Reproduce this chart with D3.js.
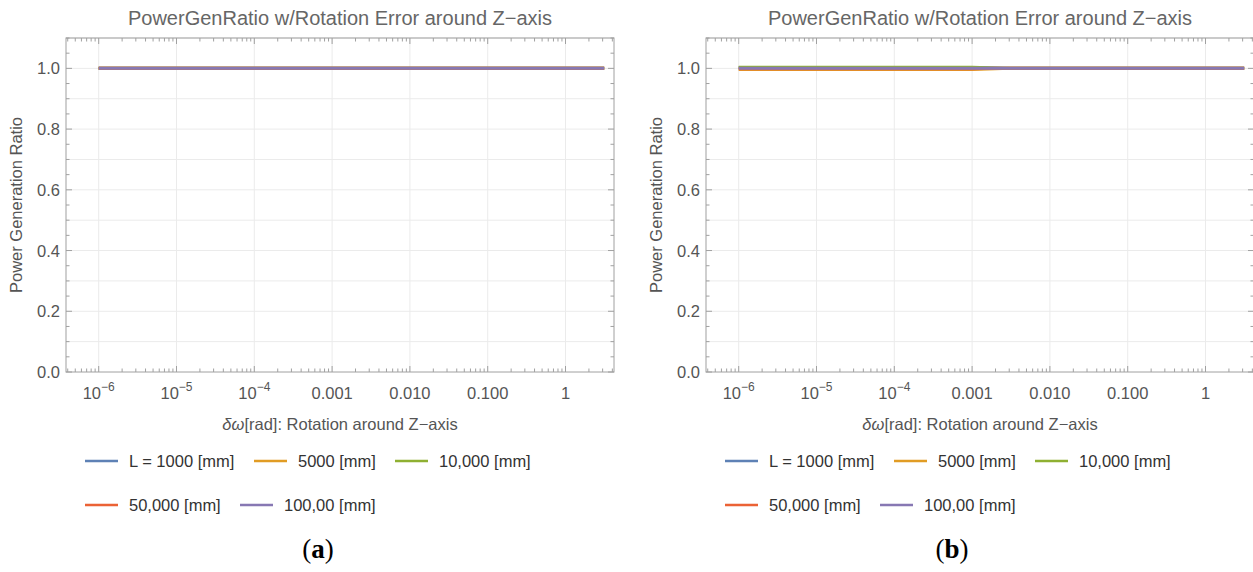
<!DOCTYPE html>
<html>
<head>
<meta charset="utf-8">
<script src="https://cdn.jsdelivr.net/npm/d3@7"></script>
<style>
  body { margin: 0; background: #fff; }
  svg text { font-family: "Liberation Sans", Arial, sans-serif; }
</style>
</head>
<body>
<svg id="chart" width="1253" height="572"></svg>
<script>
// x sample points (rad)
const deltaOmega = [1e-6, 1e-5, 1e-4, 1e-3, 2e-3, 3e-3, 1e-2, 0.1, 1, 3.1416];

// panel (a): all lengths give ratio 1
const panelA_L1000 = [1, 1, 1, 1, 1, 1, 1, 1, 1, 1];
const panelA_L5000 = [1, 1, 1, 1, 1, 1, 1, 1, 1, 1];
const panelA_L10000 = [1, 1, 1, 1, 1, 1, 1, 1, 1, 1];
const panelA_L50000 = [1, 1, 1, 1, 1, 1, 1, 1, 1, 1];
const panelA_L100000 = [1, 1, 1, 1, 1, 1, 1, 1, 1, 1];

// panel (b): small spread below ~0.002 rad
const panelB_L1000 = [1.003, 1.003, 1.003, 1.003, 1.001, 1, 1, 1, 1, 1];
const panelB_L5000 = [0.996, 0.996, 0.996, 0.996, 0.999, 1, 1, 1, 1, 1];
const panelB_L10000 = [1.004, 1.004, 1.004, 1.004, 1.001, 1, 1, 1, 1, 1];
const panelB_L50000 = [0.999, 0.999, 0.999, 0.999, 1, 1, 1, 1, 1, 1];
const panelB_L100000 = [1, 1, 1, 1, 1, 1, 1, 1, 1, 1];

const legendLabels = ["L = 1000 [mm]", "5000 [mm]", "10,000 [mm]", "50,000 [mm]", "100,00 [mm]"];
const seriesColors = ["#5e81b5", "#e19c24", "#8fb032", "#eb6235", "#8778b3"];

const xTickValues = [1e-6, 1e-5, 1e-4, 1e-3, 1e-2, 0.1, 1];
const xTickLabels = [["10", "−6"], ["10", "−5"], ["10", "−4"], ["0.001"], ["0.010"], ["0.100"], ["1"]];
const yTickValues = [0, 0.2, 0.4, 0.6, 0.8, 1.0];

const panels = [
  { dx: 0, caption: "a", series: [panelA_L1000, panelA_L5000, panelA_L10000, panelA_L50000, panelA_L100000] },
  { dx: 640, caption: "b", series: [panelB_L1000, panelB_L5000, panelB_L10000, panelB_L50000, panelB_L100000] }
];

const svg = d3.select("#chart");
const plotLeft = 66, plotRight = 614, plotTop = 38, plotBottom = 372;
const frameColor = "#a0a0a0";
const labelColor = "#555";

const x = d3.scaleLog().domain([3.8e-7, 4.2]).range([plotLeft, plotRight]);
const y = d3.scaleLinear().domain([0, 1.1]).range([plotBottom, plotTop]);

// minor ticks on the log axis: 2..9 of each decade inside the domain
const xMinor = [];
for (let e = -7; e <= 0; e++) {
  for (let m = 2; m <= 9; m++) {
    const v = m * Math.pow(10, e);
    if (v >= 3.8e-7 && v <= 4.2) xMinor.push(v);
  }
}
const yMinor = d3.range(0, 1.101, 0.05);
const yGrid = d3.range(0.1, 1.101, 0.1);

panels.forEach(function (p) {
  const g = svg.append("g").attr("transform", "translate(" + p.dx + ",0)");

  // grid lines
  g.selectAll(".vgrid").data(xTickValues).enter().append("line")
    .attr("x1", d => x(d)).attr("x2", d => x(d))
    .attr("y1", plotTop).attr("y2", plotBottom)
    .attr("stroke", "#ebebeb").attr("stroke-width", 1);
  g.selectAll(".hgrid").data(yGrid).enter().append("line")
    .attr("x1", plotLeft).attr("x2", plotRight)
    .attr("y1", d => y(d)).attr("y2", d => y(d))
    .attr("stroke", "#ebebeb").attr("stroke-width", 1);

  // frame
  g.append("rect")
    .attr("x", plotLeft).attr("y", plotTop)
    .attr("width", plotRight - plotLeft).attr("height", plotBottom - plotTop)
    .attr("fill", "none").attr("stroke", frameColor).attr("stroke-width", 1);

  // x ticks (bottom and top, inward)
  const xt = xTickValues.map(v => ({ v: v, len: 6 })).concat(xMinor.map(v => ({ v: v, len: 3.5 })));
  g.selectAll(".xtb").data(xt).enter().append("line")
    .attr("x1", d => x(d.v)).attr("x2", d => x(d.v))
    .attr("y1", plotBottom).attr("y2", d => plotBottom - d.len)
    .attr("stroke", frameColor);
  g.selectAll(".xtt").data(xt).enter().append("line")
    .attr("x1", d => x(d.v)).attr("x2", d => x(d.v))
    .attr("y1", plotTop).attr("y2", d => plotTop + d.len)
    .attr("stroke", frameColor);

  // y ticks (left and right, inward)
  const yt = yMinor.map(v => ({ v: v, len: Math.abs(v * 5 - Math.round(v * 5)) < 1e-6 ? 6 : 3.5 }));
  g.selectAll(".ytl").data(yt).enter().append("line")
    .attr("x1", plotLeft).attr("x2", d => plotLeft + d.len)
    .attr("y1", d => y(d.v)).attr("y2", d => y(d.v))
    .attr("stroke", frameColor);
  g.selectAll(".ytr").data(yt).enter().append("line")
    .attr("x1", plotRight).attr("x2", d => plotRight - d.len)
    .attr("y1", d => y(d.v)).attr("y2", d => y(d.v))
    .attr("stroke", frameColor);

  // x tick labels
  xTickValues.forEach(function (v, i) {
    const lab = xTickLabels[i];
    const t = g.append("text")
      .attr("x", x(v)).attr("y", 399)
      .attr("text-anchor", "middle")
      .attr("font-size", 16.5).attr("fill", labelColor);
    t.append("tspan").text(lab[0]);
    if (lab.length > 1) {
      t.append("tspan").attr("dy", -8).attr("font-size", 12).text(lab[1]);
    }
  });

  // y tick labels
  g.selectAll(".ylab").data(yTickValues).enter().append("text")
    .attr("x", 60).attr("y", d => y(d) + 6)
    .attr("text-anchor", "end")
    .attr("font-size", 16.5).attr("fill", labelColor)
    .text(d => d.toFixed(1));

  // title
  g.append("text")
    .attr("x", 340).attr("y", 25)
    .attr("text-anchor", "middle")
    .attr("font-size", 20).attr("fill", "#666")
    .text("PowerGenRatio w/Rotation Error around Z−axis");

  // axis labels
  const xl = g.append("text")
    .attr("x", 340).attr("y", 430)
    .attr("text-anchor", "middle")
    .attr("font-size", 16.5).attr("fill", labelColor);
  xl.append("tspan").attr("font-style", "italic").text("δω");
  xl.append("tspan").text("[rad]: Rotation around Z−axis");

  g.append("text")
    .attr("transform", "translate(22," + (plotTop + plotBottom) / 2 + ") rotate(-90)")
    .attr("text-anchor", "middle")
    .attr("font-size", 16.5).attr("fill", labelColor)
    .text("Power Generation Ratio");

  // data lines
  const line = d3.line()
    .x(d => x(d[0]))
    .y(d => y(d[1]));
  p.series.forEach(function (vals, i) {
    g.append("path")
      .datum(deltaOmega.map((xv, j) => [xv, vals[j]]))
      .attr("d", line)
      .attr("fill", "none")
      .attr("stroke", seriesColors[i])
      .attr("stroke-width", 3);
  });

  // legend
  const legendPos = [[85, 461], [254, 461], [395, 461], [85, 505], [240, 505]];
  legendLabels.forEach(function (lab, i) {
    const lx = legendPos[i][0], ly = legendPos[i][1];
    g.append("line")
      .attr("x1", lx).attr("x2", lx + 33)
      .attr("y1", ly).attr("y2", ly)
      .attr("stroke", seriesColors[i]).attr("stroke-width", 2.5);
    g.append("text")
      .attr("x", lx + 44).attr("y", ly + 6)
      .attr("font-size", 16.5).attr("fill", "#333")
      .text(lab);
  });

  // caption
  const cap = g.append("text")
    .attr("x", p.dx === 0 ? 318 : 312).attr("y", 558)
    .attr("text-anchor", "middle")
    .attr("font-size", 27).attr("fill", "#000")
    .style("font-family", "'Liberation Serif', 'DejaVu Serif', serif");
  cap.append("tspan").text("(");
  cap.append("tspan").attr("font-weight", "bold").text(p.caption);
  cap.append("tspan").text(")");
});
</script>
</body>
</html>
